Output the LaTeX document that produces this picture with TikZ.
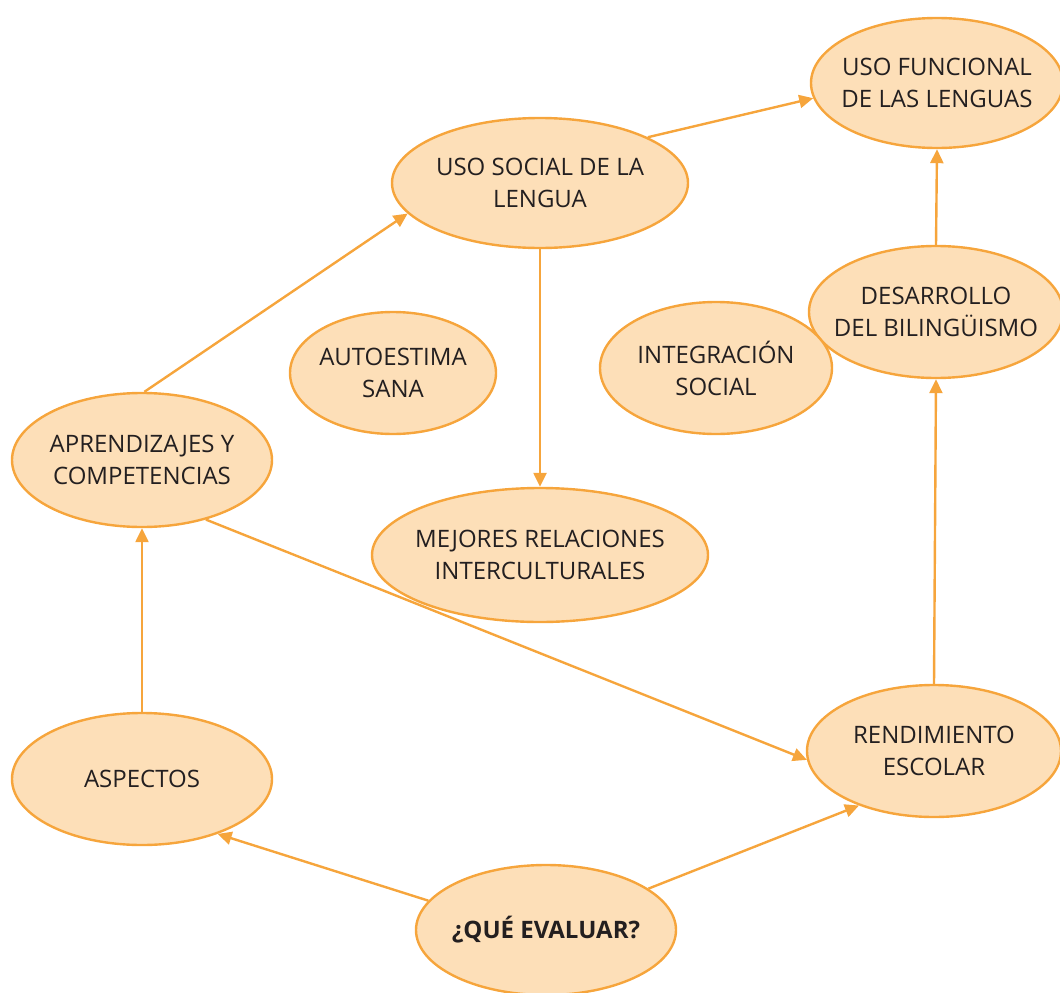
\documentclass[tikz,border=0pt]{standalone}
\usepackage{fontspec}
\setmainfont{Open Sans}
\usetikzlibrary{shapes.geometric,arrows.meta}
\definecolor{peach}{HTML}{FDDFB8}
\definecolor{edgeorange}{HTML}{F6A53C}
\definecolor{ink}{HTML}{231F20}
\begin{document}
\begin{tikzpicture}[x=1pt,y=-1pt,
  % negative inner sep keeps the ellipse size set by minimum width/height only
  bubble/.style={ellipse, draw=edgeorange, fill=peach, line width=2.4pt,
    inner xsep=-60pt, inner ysep=-30pt, align=center, text=ink,
    font=\fontsize{24}{32}\selectfont},
  link/.style={draw=edgeorange, line width=2.4pt,
    -{Triangle[length=14pt,width=13pt]}}]
\useasboundingbox (0,0) rectangle (1060,993);

% concept bubbles
\node[bubble, minimum width=252pt, minimum height=130pt] (uf) at (937,83) {USO FUNCIONAL\\DE LAS LENGUAS};
\node[bubble, minimum width=296pt, minimum height=130pt] (us) at (540,183) {USO SOCIAL DE LA\\LENGUA};
\node[bubble, minimum width=254pt, minimum height=132pt] (de) at (936,312) {DESARROLLO\\DEL BILINGÜISMO};
\node[bubble, minimum width=232pt, minimum height=132pt] (is) at (716,368) {INTEGRACIÓN\\SOCIAL};
\node[bubble, minimum width=206pt, minimum height=122pt] (as) at (393,373) {AUTOESTIMA\\SANA};
\node[bubble, minimum width=260pt, minimum height=134pt] (ap) at (142,460) {APRENDIZAJES Y\\COMPETENCIAS};
\node[bubble, minimum width=336pt, minimum height=134pt] (mr) at (540,555) {MEJORES RELACIONES\\INTERCULTURALES};
\node[bubble, minimum width=260pt, minimum height=132pt] (asp) at (142,779) {ASPECTOS};
\node[bubble, minimum width=254pt, minimum height=132pt] (re) at (934,751) {RENDIMIENTO\\ESCOLAR};
\node[bubble, minimum width=260pt, minimum height=130pt, font=\fontsize{24}{32}\selectfont\bfseries] (qe) at (546,930) {¿QUÉ EVALUAR?};

% connectors
\draw[link] (qe.166.6) -- (asp.-36.5);
\draw[link] (qe.22) -- (re.216.1);
\draw[link] (asp.north) -- (ap.south);
\draw[link] (ap.-43.6) -- (re.184);
\draw[link] (ap.88) -- (us.193.8);
\draw[link] (us.south) -- (mr.north);
\draw[link] (us.23.6) -- (uf.187);
\draw[link] (re.north) -- (de.south);
\draw[link] (de.north) -- (uf.south);
\end{tikzpicture}
\end{document}
